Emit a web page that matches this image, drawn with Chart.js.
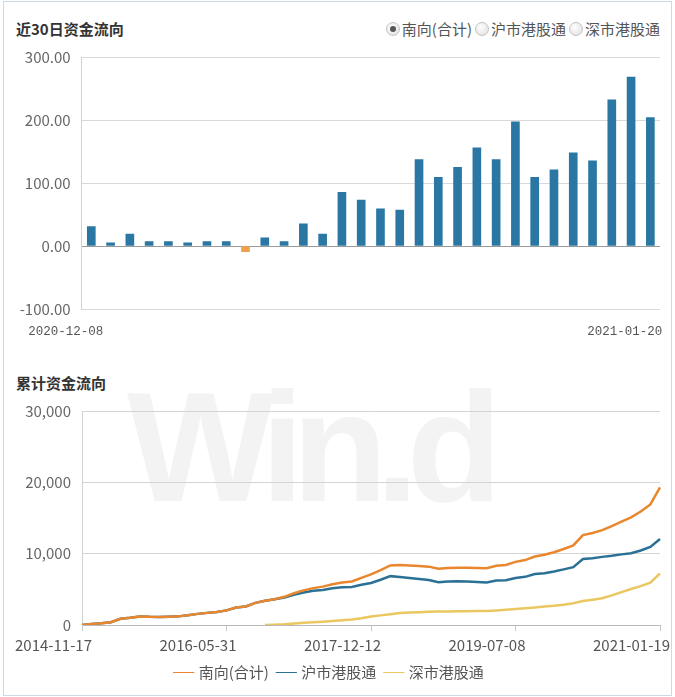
<!DOCTYPE html>
<html>
<head>
<meta charset="utf-8">
<script src="https://cdn.jsdelivr.net/npm/chart.js@4.4.1/dist/chart.umd.min.js"></script>
<style>
  body { margin: 0; background: #fff; font-family: "Noto Sans CJK SC", "Noto Sans", sans-serif; }
  #wrap { position: relative; width: 675px; height: 697px; overflow: hidden; }
  #frame { position: absolute; left: 3px; top: 1px; width: 669px; height: 695px; border: 1px solid #cbd9e6; box-sizing: border-box; }
  .title { position: absolute; left: 16px; font-size: 15px; font-weight: bold; color: #333; line-height: 20px; }
  #radios { position: absolute; right: 15px; top: 19px; font-size: 15px; color: #555; line-height: 20px; }
  .r { display: inline-block; width: 12px; height: 12px; border-radius: 50%; border: 1px solid #c4c4c4;
       background: radial-gradient(circle at 40% 35%, #fff, #ddd); vertical-align: -1px; margin: 0 2px 0 3px; position: relative; }
  .r.on::after { content: ""; position: absolute; left: 3px; top: 3px; width: 6px; height: 6px; border-radius: 50%; background: #555; }
  #mark { position: absolute; left: 127px; top: 369px; font: bold 156px "Liberation Sans", Arial, sans-serif;
          line-height: 156px; letter-spacing: -12px; color: #f3f3f3; }
  .box { position: absolute; left: 0; width: 675px; }
</style>
</head>
<body>
<div id="wrap">
  <div id="frame"></div>
  <div id="mark">Win.d</div>
  <div class="title" style="top:19px">近30日资金流向</div>
  <div id="radios"><span class="r on"></span>南向(合计)<span class="r"></span>沪市港股通<span class="r"></span>深市港股通</div>
  <div class="box" style="top:0;height:345px"><canvas id="flowChart"></canvas></div>
  <div class="title" style="top:373px">累计资金流向</div>
  <div class="box" style="top:355px;height:342px"><canvas id="cumChart"></canvas></div>
</div>
<script>
// 近30日资金流向 (南向合计, 亿元)
const days30 = [
  "2020-12-08", "2020-12-09", "2020-12-10", "2020-12-11", "2020-12-14", "2020-12-15",
  "2020-12-16", "2020-12-17", "2020-12-18", "2020-12-21", "2020-12-22", "2020-12-23",
  "2020-12-24", "2020-12-28", "2020-12-29", "2020-12-30", "2020-12-31", "2021-01-04",
  "2021-01-05", "2021-01-06", "2021-01-07", "2021-01-08", "2021-01-11", "2021-01-12",
  "2021-01-13", "2021-01-14", "2021-01-15", "2021-01-18", "2021-01-19", "2021-01-20"
];
const flow30 = [
  31, 5, 19, 7, 7, 5, 7, 7, -9, 13, 7, 35, 19, 85, 73,
  59, 57, 137, 109, 125, 156, 137, 197, 109, 121, 148, 135, 232, 268, 204
];

// 累计资金流向
const cumDates = [
  "2014-11-17", "2014-12-24", "2015-01-30", "2015-03-09", "2015-04-15", "2015-05-22",
  "2015-06-29", "2015-08-05", "2015-09-11", "2015-10-19", "2015-11-25", "2016-01-04",
  "2016-02-10", "2016-03-17", "2016-04-22", "2016-05-31", "2016-07-07", "2016-08-12",
  "2016-09-19", "2016-10-25", "2016-12-01", "2017-01-06", "2017-02-13", "2017-03-21",
  "2017-04-27", "2017-06-02", "2017-07-10", "2017-08-15", "2017-09-21", "2017-11-06",
  "2017-12-12", "2018-01-18", "2018-02-26", "2018-04-04", "2018-05-11", "2018-06-18",
  "2018-07-25", "2018-08-30", "2018-10-08", "2018-11-14", "2018-12-20", "2019-01-28",
  "2019-03-06", "2019-04-12", "2019-05-22", "2019-07-08", "2019-08-14", "2019-09-20",
  "2019-10-29", "2019-12-04", "2020-01-10", "2020-02-18", "2020-03-26", "2020-05-04",
  "2020-06-10", "2020-07-17", "2020-08-24", "2020-09-30", "2020-11-06", "2020-12-14",
  "2021-01-19"
];
const southTotal = [
  0, 150, 260, 380, 880, 1020, 1200, 1150, 1130, 1170, 1210, 1380, 1560, 1700, 1810,
  2050, 2460, 2600, 3100, 3400, 3600, 3950, 4450, 4850, 5170, 5380, 5700, 5950, 6100, 6600,
  7100, 7700, 8350, 8400, 8330, 8260, 8180, 7880, 8000, 8040, 8040, 8000, 7950, 8300, 8420,
  8850, 9100, 9600, 9850, 10200, 10650, 11150, 12600, 12900, 13300, 13850, 14500, 15100, 15900, 16900,
  19300
];
const shConnect = [
  0, 150, 260, 380, 880, 1020, 1200, 1150, 1130, 1170, 1210, 1380, 1560, 1700, 1810,
  2050, 2460, 2600, 3100, 3400, 3600, 3850, 4250, 4550, 4790, 4910, 5140, 5300, 5340, 5650,
  5900, 6350, 6850, 6720, 6580, 6460, 6320, 6000, 6100, 6120, 6100, 6040, 5970, 6250, 6280,
  6600, 6750, 7150, 7250, 7500, 7800, 8100, 9250, 9350, 9550, 9700, 9900, 10050, 10450, 10950,
  12050
];
const szConnect = [
  null, null, null, null, null, null, null, null, null, null, null, null, null, null, null,
  null, null, null, null, 0, 40, 100, 200, 300, 380, 470, 560, 650, 760, 950,
  1200, 1350, 1500, 1680, 1750, 1800, 1860, 1880, 1900, 1920, 1940, 1960, 1980, 2050, 2140,
  2250, 2350, 2450, 2600, 2700, 2850, 3050, 3350, 3550, 3750, 4150, 4600, 5050, 5450, 5950,
  7250
];

Chart.defaults.font.family = '"Noto Sans CJK SC", "Noto Sans", sans-serif';
Chart.defaults.color = "#666";
Chart.defaults.animation = false;

new Chart("flowChart", {
  type: "bar",
  data: {
    labels: days30,
    datasets: [{
      data: flow30,
      backgroundColor: (ctx) => (ctx.raw < 0 ? "#f0a04b" : "#2a77a3"),
      barThickness: 8,
    }],
  },
  options: {
    responsive: true,
    maintainAspectRatio: false,
    layout: { padding: { top: 57, right: 15, bottom: 6, left: 0 } },
    plugins: { legend: { display: false }, tooltip: { enabled: false } },
    scales: {
      x: {
        grid: { display: false, drawTicks: false },
        border: { display: false },
        ticks: {
          autoSkip: false,
          maxRotation: 0,
          align: "end",
          labelOffset: 12,
          padding: 15,
          color: "#555",
          font: { family: '"Liberation Mono", monospace', size: 12.5 },
          callback: (v, i) => (i === 0 || i === days30.length - 1 ? days30[i] : ""),
        },
        afterFit: (s) => { s.height = 30; },
      },
      y: {
        min: -100,
        max: 300,
        ticks: { stepSize: 100, padding: 11, font: { size: 15 }, callback: (v) => v.toFixed(2) },
        grid: { drawTicks: false, color: (ctx) => (ctx.tick.value === 0 ? "#9a9a9a" : "#d9d9d9") },
        border: { color: "#cdd3d8" },
        afterFit: (s) => { s.width = 77; },
      },
    },
  },
});

new Chart("cumChart", {
  type: "line",
  data: {
    labels: cumDates,
    datasets: [
      { label: "南向(合计)", data: southTotal, borderColor: "#e8872e", backgroundColor: "#e8872e" },
      { label: "沪市港股通", data: shConnect, borderColor: "#2b7095", backgroundColor: "#2b7095" },
      { label: "深市港股通", data: szConnect, borderColor: "#eac760", backgroundColor: "#eac760" },
    ],
  },
  options: {
    responsive: true,
    maintainAspectRatio: false,
    elements: { point: { radius: 0 }, line: { borderWidth: 2.5, tension: 0 } },
    layout: { padding: { top: 56, right: 15, bottom: 7, left: 0 } },
    plugins: {
      tooltip: { enabled: false },
      legend: {
        position: "bottom",
        labels: { usePointStyle: true, pointStyle: "line", boxWidth: 18, padding: 10, color: "#555", font: { size: 15 } },
      },
    },
    scales: {
      x: {
        grid: {
          drawOnChartArea: false,
          tickLength: 6,
          color: (ctx) => (ctx.index % 15 === 0 ? "#c8c8c8" : "rgba(0,0,0,0)"),
        },
        border: { color: "#b8b8b8" },
        ticks: {
          autoSkip: false,
          maxRotation: 0,
          align: "end",
          labelOffset: 10,
          padding: 5,
          color: "#555",
          font: { size: 15 },
          callback: (v, i) => (i % 15 === 0 ? cumDates[i] : ""),
        },
        afterFit: (s) => { s.height = 30; },
      },
      y: {
        min: 0,
        max: 30000,
        ticks: { stepSize: 10000, padding: 11, font: { size: 15 }, callback: (v) => v.toLocaleString("en-US") },
        grid: { drawTicks: false, color: "#d4d4d4" },
        border: { color: "#cdd3d8" },
        afterFit: (s) => { s.width = 77; },
      },
    },
  },
});
</script>
</body>
</html>
